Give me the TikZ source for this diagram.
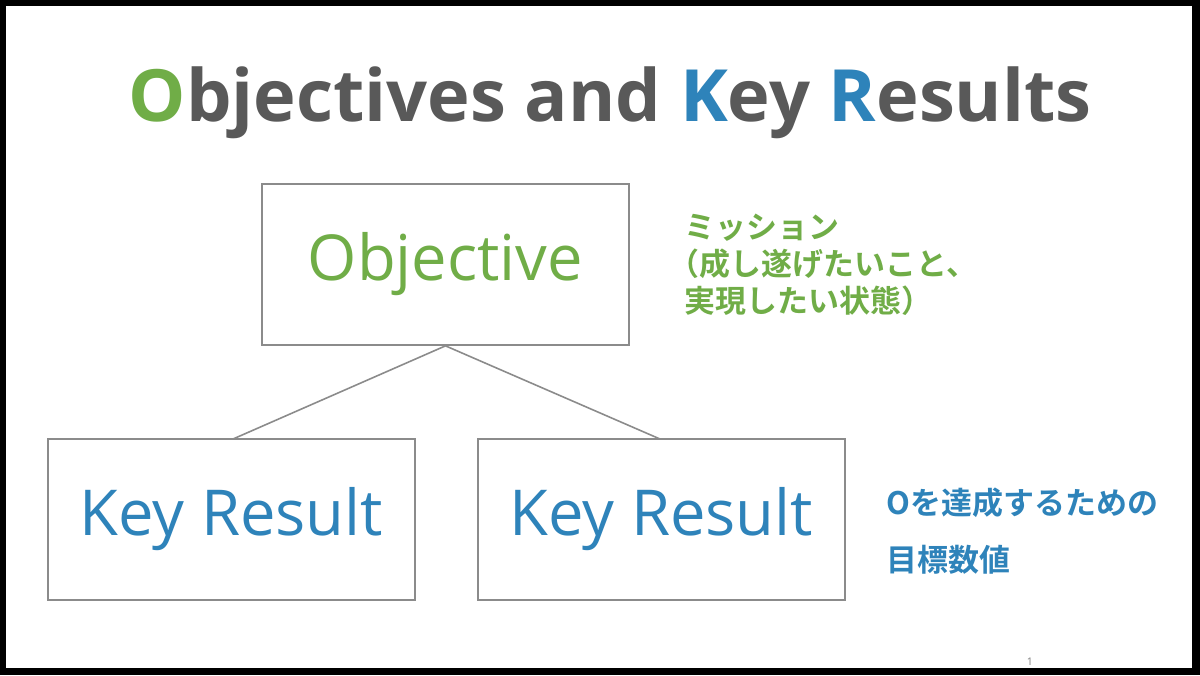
\documentclass[tikz,border=0pt]{standalone}
\usepackage{fontspec}
\setmainfont{Open Sans}
\newfontfamily\jpfont{Noto Sans CJK JP}[BoldFont={* Bold}]
\usetikzlibrary{positioning}
\definecolor{okrgreen}{HTML}{70AD47}
\definecolor{okrblue}{HTML}{2E83BA}
\definecolor{titlegray}{HTML}{595959}
\begin{document}
\begin{tikzpicture}[x=0.01cm,y=-0.01cm]
	\tikzset{box/.style = {draw=titlegray!70,line width=0.45pt,minimum width=3.67cm,minimum height=1.61cm,inner sep=0pt}}
	\tikzset{note/.style = {font=\jpfont\bfseries\fontsize{8.8}{10.6}\selectfont,align=left,anchor=west,inner sep=0pt}}
	\tikzset{link/.style = {draw=titlegray!70,line width=0.45pt}}
	\useasboundingbox (0,0) rectangle (1200,675);
	% frame
	\fill[black] (0,0) rectangle (1200,675);
	\fill[white] (6,6) rectangle (1192,668);
	% title
	\node[font=\bfseries\fontsize{20.5}{24}\selectfont,text=titlegray] (title) at (610,103)
		{\textcolor{okrgreen}{O}bjectives and \textcolor{okrblue}{K}ey \textcolor{okrblue}{R}esults};
	% boxes
	\node[box,text=okrgreen,font=\fontsize{18}{22}\selectfont] (obj) at (445.5,264.5) {Objective};
	\node[box,text=okrblue,font=\fontsize{18}{22}\selectfont] (kr1) at (231.5,519.5) {Key Result};
	\node[box,text=okrblue,font=\fontsize{18}{22}\selectfont] (kr2) at (661.5,519.5) {Key Result};
	\coordinate (kr1top) at (233,439);
	\coordinate (kr2top) at (660,439);
	% links
	\draw[link] (obj.south) -- (kr1top);
	\draw[link] (obj.south) -- (kr2top);
	% notes
	\node[note,text=okrgreen] (mission) at (668,265) {\hspace*{4.5pt}ミッション\\（成し遂げたいこと、\\\hspace*{4.5pt}実現したい状態）};
	\node[note,text=okrblue] (krnote1) at (886,503) {Oを達成するための};
	\node[note,text=okrblue] (krnote2) at (886,560) {目標数値};
	\node[font=\fontsize{3}{4}\selectfont,text=gray] (page) at (1030,662) {1};
\end{tikzpicture}
\end{document}
